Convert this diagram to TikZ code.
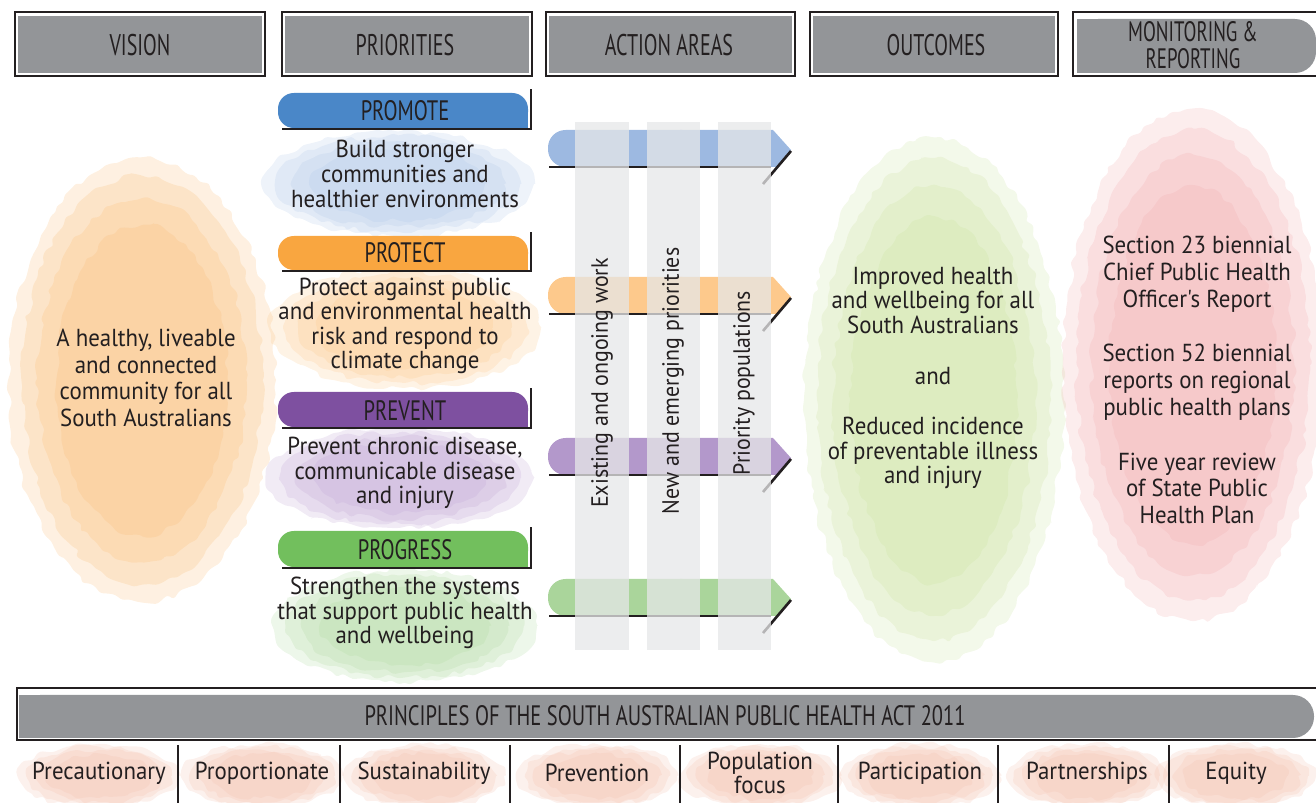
\documentclass[tikz,border=0pt]{standalone}
\usepackage{fontspec}
\setmainfont{PT Sans}
\newfontfamily\headfont{PT Sans}[FakeStretch=0.67]
\newfontfamily\barfont{PT Sans}[FakeStretch=0.73]
\newfontfamily\bodyfont{PT Sans}[FakeStretch=0.93]
\usetikzlibrary{decorations.pathmorphing}

\definecolor{headgray}{HTML}{939598}
\definecolor{inkdark}{HTML}{231F20}
\definecolor{colgray}{HTML}{E6E7E8}
\definecolor{promote}{HTML}{4A87C8}
\definecolor{protect}{HTML}{F9A640}
\definecolor{prevent}{HTML}{7E50A0}
\definecolor{progress}{HTML}{72BF5D}
\definecolor{promotelight}{HTML}{9DB9E1}
\definecolor{protectlight}{HTML}{FDC98C}
\definecolor{preventlight}{HTML}{B398CB}
\definecolor{progresslight}{HTML}{AAD59B}
\definecolor{visionwash}{HTML}{F8B567}
\definecolor{bluewash}{HTML}{A9C2E5}
\definecolor{orangewash}{HTML}{FBC27F}
\definecolor{purplewash}{HTML}{B99BCF}
\definecolor{greenwash}{HTML}{A7D596}
\definecolor{outcomewash}{HTML}{C5DF95}
\definecolor{reportwash}{HTML}{F0A3A6}
\definecolor{principlewash}{HTML}{F2B9A4}

\tikzset{
  frameline/.style={draw=inkdark, line width=1.6pt},
  inkline/.style={draw=inkdark, line width=1.5pt},
  headlabel/.style={font=\headfont\fontsize{17}{15}\selectfont, text=inkdark, align=center},
  barlabel/.style={font=\barfont\fontsize{16}{15}\selectfont, text=inkdark},
  bodytext/.style={font=\bodyfont\fontsize{14}{14}\selectfont, text=inkdark, align=center},
  widetext/.style={font=\bodyfont\fontsize{14}{15.2}\selectfont, text=inkdark, align=center},
  coltext/.style={font=\bodyfont\fontsize{13.4}{14}\selectfont, text=inkdark, rotate=90},
  wash/.style={opacity=0.2, decorate,
    decoration={random steps, segment length=4pt, amplitude=1.8pt}, rounded corners=1.5pt},
  column/.style={fill=colgray, opacity=0.75}
}

% watercolour patch: colour, centre x, centre y, x radius, y radius
\newcommand{\washblob}[5]{%
  \fill[#1, wash] (#2,#3) ellipse [x radius=#4, y radius=#5];
  \fill[#1, wash] (#2,#3) ellipse [x radius=0.9*#4, y radius=0.92*#5];
  \fill[#1, wash] (#2,#3) ellipse [x radius=0.78*#4, y radius=0.82*#5];
  \fill[#1, wash] (#2,#3) ellipse [x radius=0.64*#4, y radius=0.7*#5];
}

\begin{document}
\begin{tikzpicture}[x=0.02cm, y=-0.02cm]
    \pgfmathsetseed{42}
    \useasboundingbox (0,0) rectangle (1316,803);

    % Washes
    \washblob{visionwash}{142}{380}{134}{222}
    \washblob{bluewash}{398}{184}{136}{52}
    \washblob{orangewash}{405}{328}{136}{60}
    \washblob{purplewash}{400}{478}{134}{50}
    \washblob{greenwash}{405}{626}{132}{56}
    \washblob{outcomewash}{934}{400}{130}{262}
    \washblob{reportwash}{1193}{365}{130}{256}
    \foreach \px in {99,262,424,597,760,920,1087,1236} {
        \washblob{principlewash}{\px}{776}{80}{32}
    }

    % Headers
    \fill[headgray] (18,16) rectangle (262,73);
    \draw[frameline] (15,12) rectangle (265,76);
    \node[headlabel] (vision) at (140,45) {VISION};
    \fill[headgray] (285,16) rectangle (529,73);
    \draw[frameline] (282,12) rectangle (532,76);
    \node[headlabel] (priorities) at (405,45) {PRIORITIES};
    \fill[headgray] (549,16) rectangle (792,73);
    \draw[frameline] (546,12) rectangle (795,76);
    \node[headlabel] (actionareas) at (669,45) {ACTION AREAS};
    \fill[headgray] (813,16) rectangle (1055,73);
    \draw[frameline] (810,12) rectangle (1058,76);
    \node[headlabel] (outcomes) at (936,45) {OUTCOMES};
    \fill[headgray, rounded corners=12pt] (1077,19) rectangle (1316,73);
    \fill[headgray] (1077,19) rectangle (1200,73);
    \draw[frameline] (1316,12) -- (1073,12) -- (1073,76) -- (1316,76);
    \node[headlabel, font=\headfont\fontsize{16}{15}\selectfont] (monitoring) at (1193,45) {MONITORING \&\\REPORTING};

    % Priority bars
    \fill[promote, rounded corners=9pt] (278,93) rectangle (528,128);
    \fill[promote] (500,110) rectangle (528,128);
    \draw[inkline] (282,129) -- (531,129) -- (531,89);
    \node[barlabel] (promotebar) at (405,111) {PROMOTE};
    \node[bodytext] (promotetext) at (405,174) {Build stronger\\communities and\\healthier environments};

    \fill[protect, rounded corners=9pt] (278,236) rectangle (528,270);
    \fill[protect] (500,253) rectangle (528,270);
    \draw[inkline] (282,271) -- (531,271) -- (531,232);
    \node[barlabel] (protectbar) at (405,253) {PROTECT};
    \node[bodytext] (protecttext) at (405,326) {Protect against public\\and environmental health\\risk and respond to\\climate change};

    \fill[prevent, rounded corners=9pt] (278,392) rectangle (528,427);
    \fill[prevent] (500,410) rectangle (528,427);
    \draw[inkline] (282,428) -- (531,428) -- (531,388);
    \node[barlabel] (preventbar) at (405,411) {PREVENT};
    \node[bodytext] (preventtext) at (405,473) {Prevent chronic disease,\\communicable disease\\and injury};

    \fill[progress, rounded corners=9pt] (278,531) rectangle (528,567);
    \fill[progress] (500,549) rectangle (528,567);
    \draw[inkline] (282,568) -- (531,568) -- (531,527);
    \node[barlabel] (progressbar) at (405,550) {PROGRESS};
    \node[bodytext] (progresstext) at (405,613) {Strengthen the systems\\that support public health\\and wellbeing};

    % Action arrows
    \foreach \t/\c in {130/promotelight, 277/protectlight, 438/preventlight, 579/progresslight} {
        \fill[\c, rounded corners=10pt] (548,\t) rectangle (700,{\t+37});
        \fill[\c] (680,\t) -- (773,\t) -- (791,{\t+20}) -- (777,{\t+37}) -- (680,{\t+37}) -- cycle;
        \draw[inkline] (549,{\t+37}) -- (771,{\t+37});
        \draw[inkline] (791,{\t+21}) -- (763,{\t+54});
    }

    % Columns
    \fill[column] (575,122) rectangle (629,650);
    \fill[column] (647,122) rectangle (700,650);
    \fill[column] (718,122) rectangle (771,650);
    \node[coltext] (existing) at (602,383) {Existing and ongoing work};
    \node[coltext] (emerging) at (673,381) {New and emerging priorities};
    \node[coltext] (populations) at (744,383) {Priority populations};

    % Vision, outcomes, reporting
    \node[widetext] (visiontext) at (146,378) {A healthy, liveable\\and connected\\community for all\\South Australians};
    \node[bodytext] (outcometext) at (933,378) {Improved health\\and wellbeing for all\\South Australians\\[15pt]and\\[14.5pt]Reduced incidence\\of preventable illness\\and injury};
    \node[widetext] (reporttext) at (1197,380) {Section 23 biennial\\Chief Public Health\\Officer's Report\\[16pt]Section 52 biennial\\reports on regional\\public health plans\\[16pt]Five year review\\of State Public\\Health Plan};

    % Principles
    \fill[headgray, rounded corners=12pt] (19,695) rectangle (1314,738);
    \fill[headgray] (19,695) rectangle (200,738);
    \draw[frameline] (1316,688) -- (17,688) -- (17,740) -- (1316,740);
    \node[barlabel] (principles) at (665,716) {PRINCIPLES OF THE SOUTH AUSTRALIAN PUBLIC HEALTH ACT 2011};
    \foreach \sx in {178,340,510,680,838,998,1169} {
        \draw[inkline] (\sx,745) -- (\sx,803);
    }
    \foreach \px/\name/\txt in {99/precautionary/Precautionary, 262/proportionate/Proportionate,
        424/sustainability/Sustainability, 597/prevention/Prevention, 760/popfocus/{Population\\focus},
        920/participation/Participation, 1087/partnerships/Partnerships, 1236/equity/Equity} {
        \node[bodytext] (\name) at (\px,773) {\txt};
    }
\end{tikzpicture}
\end{document}
